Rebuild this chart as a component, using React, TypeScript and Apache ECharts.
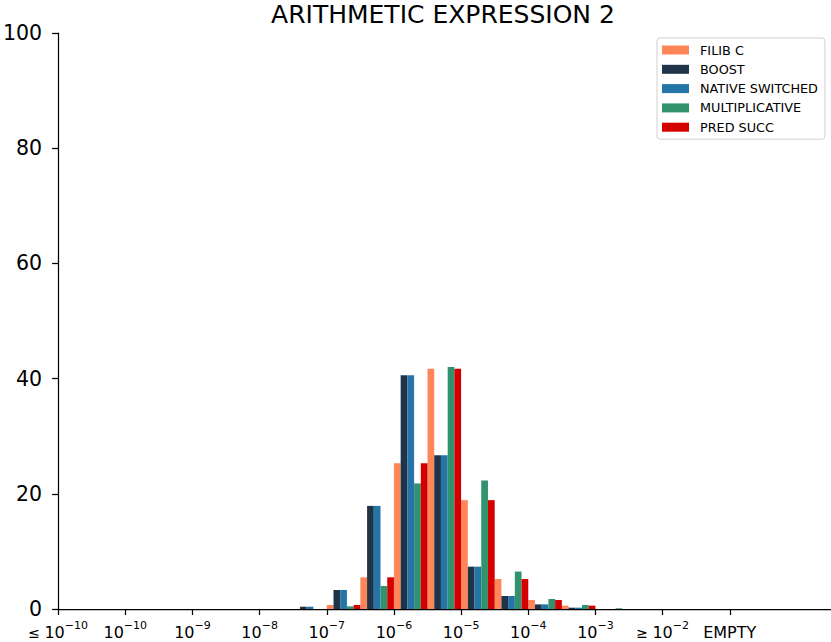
import React, { useEffect, useRef } from 'react';
import * as echarts from 'echarts';

// half-decade bins (23 bins), tick every second bin
const binNames = [
  '≤1e-10', '≤1e-10 b', '1e-10', '1e-9.5', '1e-9', '1e-8.5', '1e-8', '1e-7.5',
  '1e-7', '1e-6.5', '1e-6', '1e-5.5', '1e-5', '1e-4.5', '1e-4', '1e-3.5',
  '1e-3', '1e-2.5', '≥1e-2', '≥1e-2 b', 'EMPTY', 'EMPTY b', 'end',
];

const seriesNames = ['FILIB C', 'BOOST', 'NATIVE SWITCHED', 'MULTIPLICATIVE', 'PRED SUCC'];
const seriesColors = ['#FF8658', '#1F3449', '#2474A8', '#31936E', '#D40000'];

const filibC = [0, 0, 0, 0, 0, 0, 0, 0, 0.7, 5.5, 25.3, 41.7, 18.9, 5.2, 1.56, 0.58, 0, 0, 0, 0, 0, 0, 0];
const boost = [0, 0, 0, 0, 0, 0, 0, 0.4, 3.3, 17.9, 40.6, 26.7, 7.35, 2.26, 0.8, 0.23, 0, 0, 0, 0, 0, 0, 0];
const nativeSwitched = [0, 0, 0, 0, 0, 0, 0, 0.4, 3.3, 17.9, 40.6, 26.7, 7.35, 2.26, 0.8, 0.23, 0, 0, 0, 0, 0, 0, 0];
const multiplicative = [0, 0, 0, 0, 0, 0, 0, 0, 0.46, 4.0, 21.8, 42.0, 22.3, 6.5, 1.74, 0.69, 0.12, 0, 0, 0, 0, 0, 0];
const predSucc = [0, 0, 0, 0, 0, 0, 0, 0, 0.7, 5.5, 25.3, 41.7, 18.9, 5.2, 1.56, 0.58, 0, 0, 0, 0, 0, 0, 0];

// tick labels: [prefix, base, exponent]
const tickPositions = [0, 2, 4, 6, 8, 10, 12, 14, 16, 18, 20];
const tickLabels: [string, string, string][] = [
  ['≤ ', '10', '−10'],
  ['', '10', '−10'],
  ['', '10', '−9'],
  ['', '10', '−8'],
  ['', '10', '−7'],
  ['', '10', '−6'],
  ['', '10', '−5'],
  ['', '10', '−4'],
  ['', '10', '−3'],
  ['≥ ', '10', '−2'],
  ['', 'EMPTY', ''],
];

const yTicks = [0, 20, 40, 60, 80, 100];

const FONT = 'DejaVu Sans';

export default function App() {
  const ref = useRef<HTMLDivElement>(null);
  useEffect(() => {
    if (!ref.current) return;
    const chart = echarts.init(ref.current, null, { renderer: 'svg' });
    const allData = [filibC, boost, nativeSwitched, multiplicative, predSucc];
    chart.setOption({
      animation: false,
      backgroundColor: '#ffffff',
      textStyle: { fontFamily: FONT },
      title: {
        text: 'ARITHMETIC EXPRESSION 2',
        left: 443,
        textAlign: 'center',
        top: 1,
        padding: 0,
        textStyle: { fontFamily: FONT, fontSize: 25, lineHeight: 26, fontWeight: 'normal', color: '#000' },
      },
      legend: {
        orient: 'vertical',
        left: 657,
        top: 38,
        data: seriesNames,
        icon: 'rect',
        itemWidth: 27,
        itemHeight: 9,
        itemGap: 5.3,
        padding: [5, 7, 5, 5],
        borderColor: '#d0d0d0',
        borderWidth: 1,
        borderRadius: 3,
        backgroundColor: '#ffffff',
        selectedMode: false,
        textStyle: { fontFamily: FONT, fontSize: 12.8, color: '#000', lineHeight: 14, padding: [0, 0, 0, 6] },
      },
      grid: { left: 56.5, right: 0.5, top: 33, bottom: 33, containLabel: false },
      xAxis: [
        {
          type: 'category',
          data: binNames,
          show: false,
          boundaryGap: true,
        },
        {
          type: 'value',
          min: 0,
          max: binNames.length,
          position: 'bottom',
          axisLine: { show: true, onZero: false, lineStyle: { color: '#000', width: 1.25 } },
          axisTick: { show: true, length: 6, inside: false, customValues: tickPositions, lineStyle: { color: '#000', width: 1.25 } },
          splitLine: { show: false },
          axisLabel: {
            show: true,
            margin: 11,
            customValues: tickPositions,
            formatter: (v: number) => {
              const i = tickPositions.indexOf(Math.round(v));
              if (i < 0) return '';
              const [p, b, e] = tickLabels[i];
              let s = '';
              if (p) s += `{p|${p}}`;
              s += `{b|${b}}`;
              if (e) s += `{s|${e}}`;
              return s;
            },
            rich: {
              p: { fontFamily: FONT, fontSize: 14, color: '#000', verticalAlign: 'bottom', lineHeight: 20 },
              b: { fontFamily: FONT, fontSize: 16, color: '#000', verticalAlign: 'bottom', lineHeight: 20 },
              s: { fontFamily: FONT, fontSize: 11, color: '#000', verticalAlign: 'top', lineHeight: 20 },
            },
          },
        },
      ],
      yAxis: {
        type: 'value',
        min: 0,
        max: 100,
        interval: 20,
        axisLine: { show: true, lineStyle: { color: '#000', width: 1.25 } },
        axisTick: { show: true, length: 6, inside: false, lineStyle: { color: '#000', width: 1.25 } },
        splitLine: { show: false },
        axisLabel: {
          margin: 16,
          fontFamily: FONT,
          fontSize: 20.5,
          color: '#000',
          customValues: yTicks,
        },
      },
      series: seriesNames.map((name, i) => ({
        name,
        type: 'bar',
        xAxisIndex: 0,
        data: allData[i],
        barGap: '0%',
        barCategoryGap: '0%',
        itemStyle: { color: seriesColors[i] },
      })),
    });
    return () => chart.dispose();
  }, []);
  return (
    <div
      ref={ref}
      style={{ position: 'absolute', left: 0, top: 0, width: 831, height: 642 }}
    />
  );
}
